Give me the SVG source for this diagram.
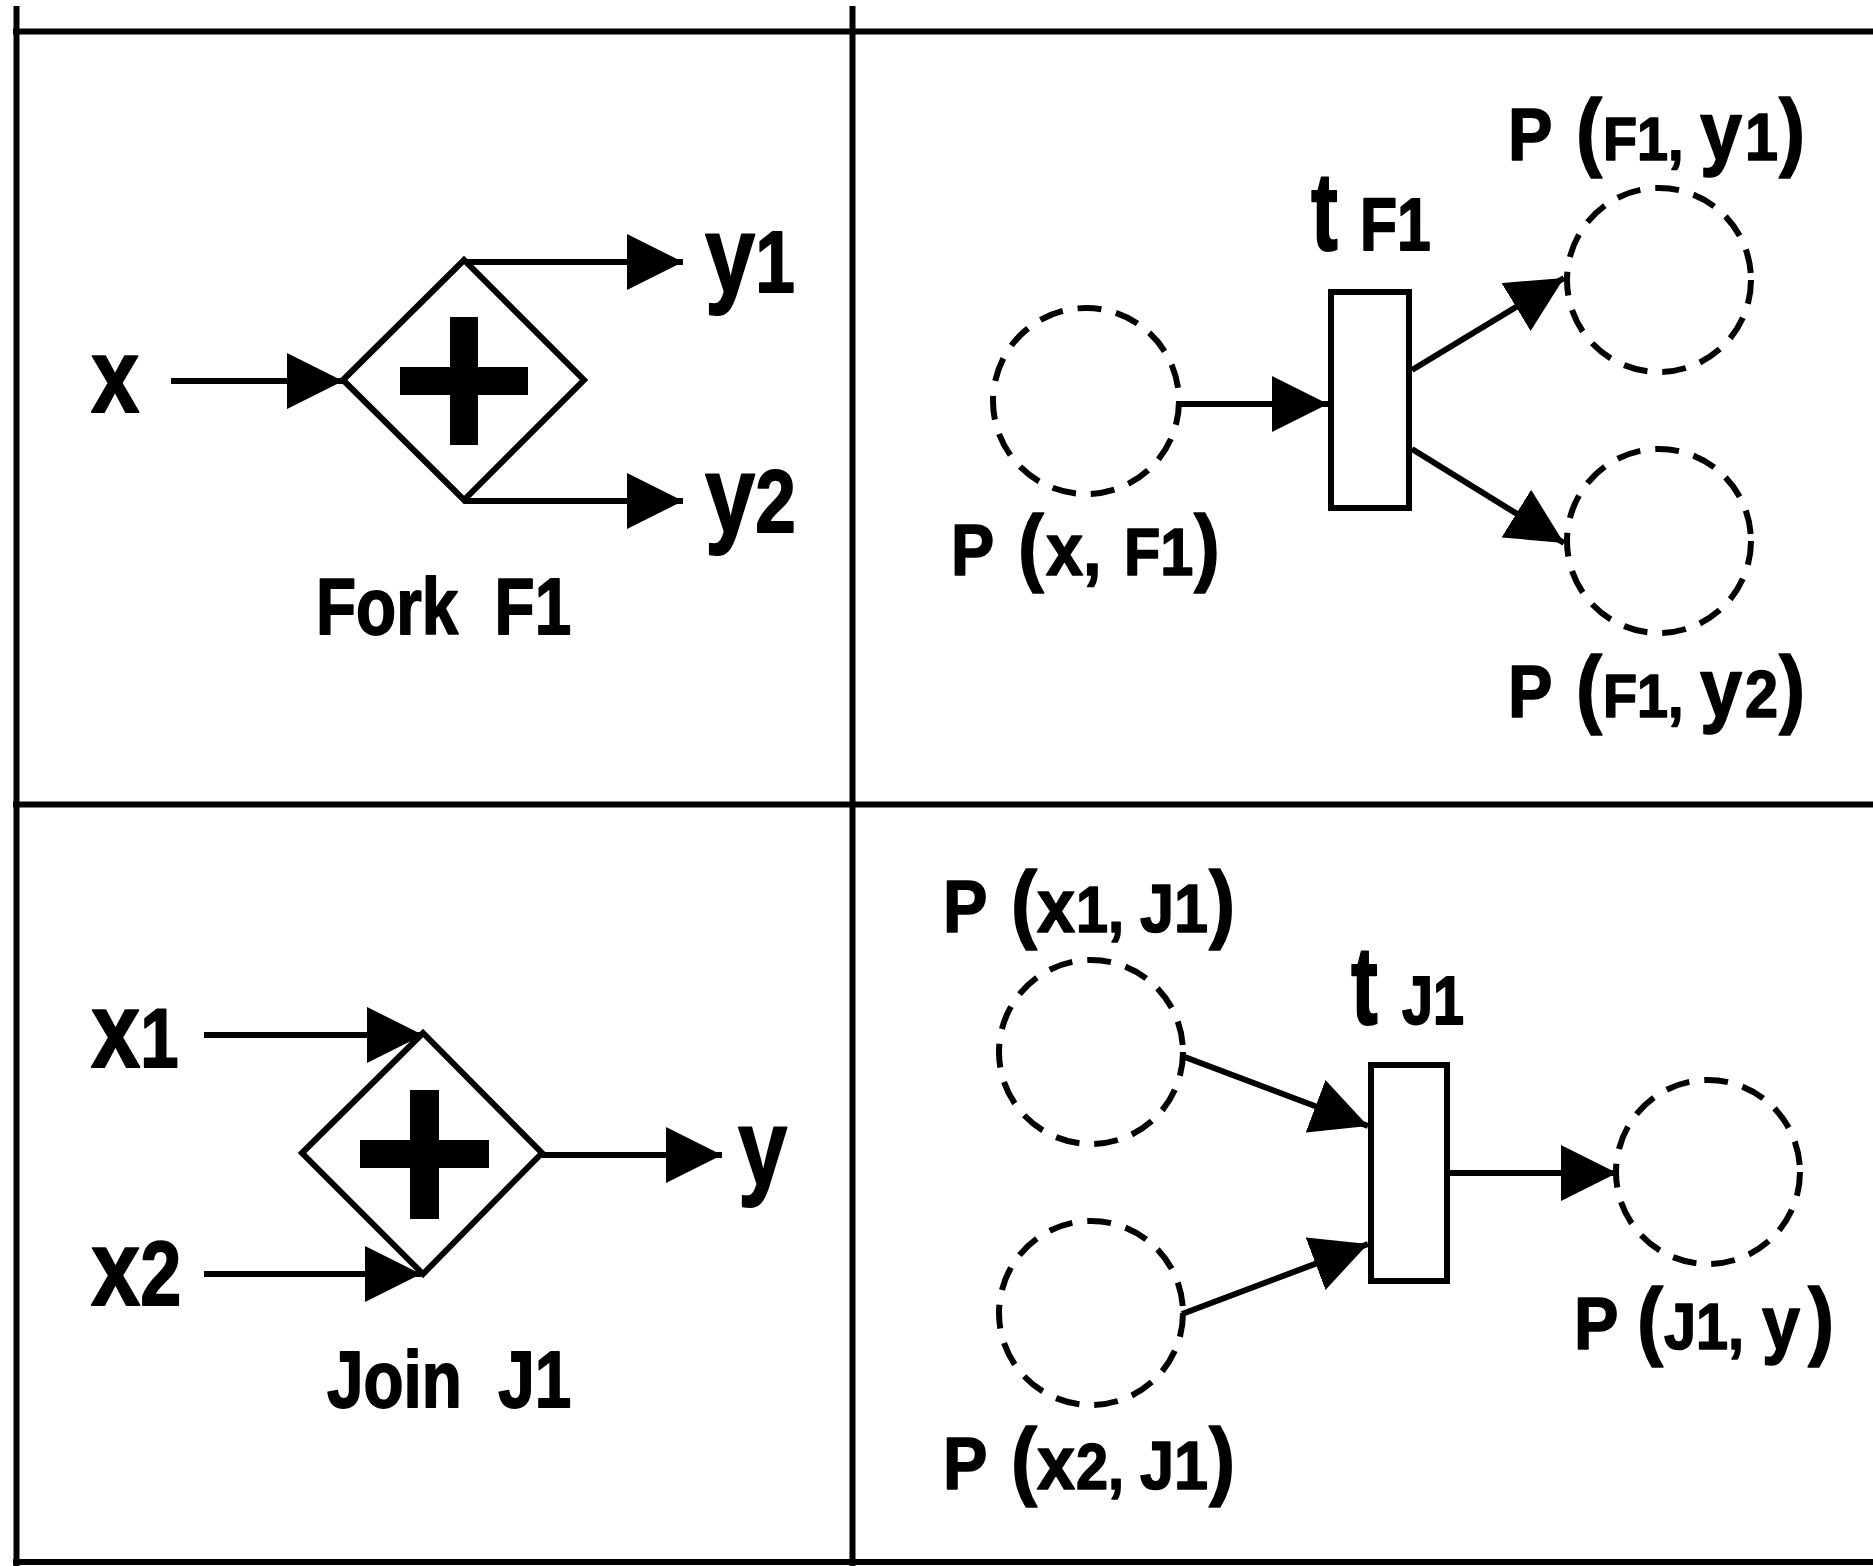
<svg xmlns="http://www.w3.org/2000/svg" width="1873" height="1566" viewBox="0 0 1873 1566">
<style>
.grid{stroke:#000;stroke-width:6;fill:none}
.ln{stroke:#000;stroke-width:6;fill:none}
.gw{fill:#fff;stroke:#000;stroke-width:6;stroke-linejoin:miter}
.plus{fill:#000}
.place{fill:none;stroke:#000;stroke-width:6;stroke-dasharray:24 15}
.trans{fill:#fff;stroke:#000;stroke-width:6}
text{font-family:"Liberation Sans",Arial,sans-serif;font-weight:bold;fill:#000;stroke:#000;stroke-width:1.8;stroke-linejoin:round}
.pl{stroke-width:1.6}
</style>
<defs>
<marker id="ah" markerUnits="userSpaceOnUse" markerWidth="56" markerHeight="56" viewBox="0 0 56 56" refX="56" refY="28" orient="auto"><path d="M0,0 L56,28 L0,56 z" fill="#000"/></marker>
</defs>
<rect width="1873" height="1566" fill="#fff"/>
<g id="frame">
<line class="grid" x1="16.5" y1="6" x2="16.5" y2="1566"/>
<line class="grid" x1="852.5" y1="6" x2="852.5" y2="1566"/>
<line class="grid" x1="13" y1="31.5" x2="1873" y2="31.5"/>
<line class="grid" x1="13" y1="804.5" x2="1873" y2="804.5"/>
<line class="grid" x1="13" y1="1562" x2="1873" y2="1562"/>
</g>
<g id="connectors">
<line class="ln" x1="171" y1="381" x2="343" y2="381" marker-end="url(#ah)"/>
<line class="ln" x1="464" y1="262" x2="683" y2="262" marker-end="url(#ah)"/>
<line class="ln" x1="464" y1="501" x2="683" y2="501" marker-end="url(#ah)"/>
<line class="ln" x1="204" y1="1035" x2="423" y2="1035" marker-end="url(#ah)"/>
<line class="ln" x1="204" y1="1274" x2="421" y2="1274" marker-end="url(#ah)"/>
<line class="ln" x1="542" y1="1155" x2="722" y2="1155" marker-end="url(#ah)"/>
<line class="ln" x1="1180" y1="404" x2="1328" y2="404" marker-end="url(#ah)"/>
<line class="ln" x1="1412" y1="370" x2="1564" y2="278" marker-end="url(#ah)"/>
<line class="ln" x1="1412" y1="449" x2="1564" y2="543" marker-end="url(#ah)"/>
<line class="ln" x1="1182" y1="1056" x2="1368" y2="1126" marker-end="url(#ah)"/>
<line class="ln" x1="1182" y1="1314" x2="1368" y2="1244" marker-end="url(#ah)"/>
<line class="ln" x1="1449" y1="1173" x2="1617" y2="1173" marker-end="url(#ah)"/>
</g>
<g id="fork-F1">
<polygon class="gw" points="343,380 464,260 584,380 464,500"/>
<rect class="plus" x="400" y="367" width="128" height="28"/>
<rect class="plus" x="450" y="317" width="28" height="128"/>
</g>
<g id="join-J1">
<polygon class="gw" points="302,1153 423,1033 542,1153 423,1274"/>
<rect class="plus" x="360" y="1140" width="129" height="28"/>
<rect class="plus" x="410" y="1090" width="29" height="129"/>
</g>
<g id="place-x-F1"><circle class="place" cx="1086" cy="401" r="93"/></g>
<g id="place-F1-y1"><circle class="place" cx="1659" cy="280" r="92"/></g>
<g id="place-F1-y2"><circle class="place" cx="1659" cy="541" r="92"/></g>
<g id="trans-F1"><rect class="trans" x="1331" y="292" width="78" height="216"/></g>
<g id="place-x1-J1"><circle class="place" cx="1091" cy="1052" r="92"/></g>
<g id="place-x2-J1"><circle class="place" cx="1091" cy="1313" r="92"/></g>
<g id="place-J1-y"><circle class="place" cx="1708" cy="1172" r="92"/></g>
<g id="trans-J1"><rect class="trans" x="1371" y="1065" width="76" height="216"/></g>
<g id="labels" transform="scale(0.82,1)">
<text x="111" y="412" font-size="106">x</text>
<text x="859.8" y="292"><tspan font-size="110">y</tspan><tspan font-size="87">1</tspan></text>
<text x="859.8" y="532"><tspan font-size="110">y</tspan><tspan font-size="89">2</tspan></text>
<text x="385.4" y="634" font-size="80" xml:space="preserve">Fork  F1</text>
<text x="111" y="1067"><tspan font-size="108">x</tspan><tspan font-size="84">1</tspan></text>
<text x="111" y="1305"><tspan font-size="108">x</tspan><tspan font-size="90">2</tspan></text>
<text x="900" y="1185" font-size="108">y</text>
<text x="398.8" y="1407" font-size="80" xml:space="preserve">Join  J1</text>
<text x="1658.5" y="250" font-size="74">F1</text>
<text x="1709.8" y="1024" font-size="68">J1</text>
</g>
<g id="place-labels" transform="scale(0.9,1)">
<text class="pl" y="575"><tspan x="1056.7" font-size="72">P </tspan><tspan x="1131.1" font-size="86">(</tspan><tspan x="1162.2" font-size="74">x, </tspan><tspan x="1248.9" font-size="66">F1</tspan><tspan x="1326.7" font-size="86">)</tspan></text>
<text class="pl" y="160"><tspan x="1675.6" font-size="74">P </tspan><tspan x="1751.1" font-size="87">(</tspan><tspan x="1781.1" font-size="62">F1, </tspan><tspan x="1888.9" font-size="84">y</tspan><tspan x="1938.9" font-size="66">1</tspan><tspan x="1976.7" font-size="87">)</tspan></text>
<text class="pl" y="717"><tspan x="1675.6" font-size="74">P </tspan><tspan x="1751.1" font-size="87">(</tspan><tspan x="1781.1" font-size="62">F1, </tspan><tspan x="1888.9" font-size="84">y</tspan><tspan x="1938.9" font-size="66">2</tspan><tspan x="1976.7" font-size="87">)</tspan></text>
<text class="pl" y="932"><tspan x="1047.8" font-size="74">P </tspan><tspan x="1123.3" font-size="87">(</tspan><tspan x="1152.2" font-size="76">x</tspan><tspan x="1195.6" font-size="64">1, </tspan><tspan x="1266.7" font-size="68">J1</tspan><tspan x="1343.3" font-size="87">)</tspan></text>
<text class="pl" y="1489"><tspan x="1047.8" font-size="74">P </tspan><tspan x="1123.3" font-size="87">(</tspan><tspan x="1152.2" font-size="76">x</tspan><tspan x="1195.6" font-size="64">2, </tspan><tspan x="1266.7" font-size="68">J1</tspan><tspan x="1343.3" font-size="87">)</tspan></text>
<text class="pl" y="1349"><tspan x="1748.9" font-size="74">P </tspan><tspan x="1818.9" font-size="87">(</tspan><tspan x="1848.9" font-size="64">J1, </tspan><tspan x="1957.8" font-size="76">y</tspan><tspan x="2008.9" font-size="87">)</tspan></text>
</g>
<g id="t-labels" transform="scale(0.72,1)" style="stroke-width:3.5">
<text x="1820.8" y="250" font-size="112">t</text>
<text x="1876.4" y="1024" font-size="112">t</text>
</g>
</svg>
